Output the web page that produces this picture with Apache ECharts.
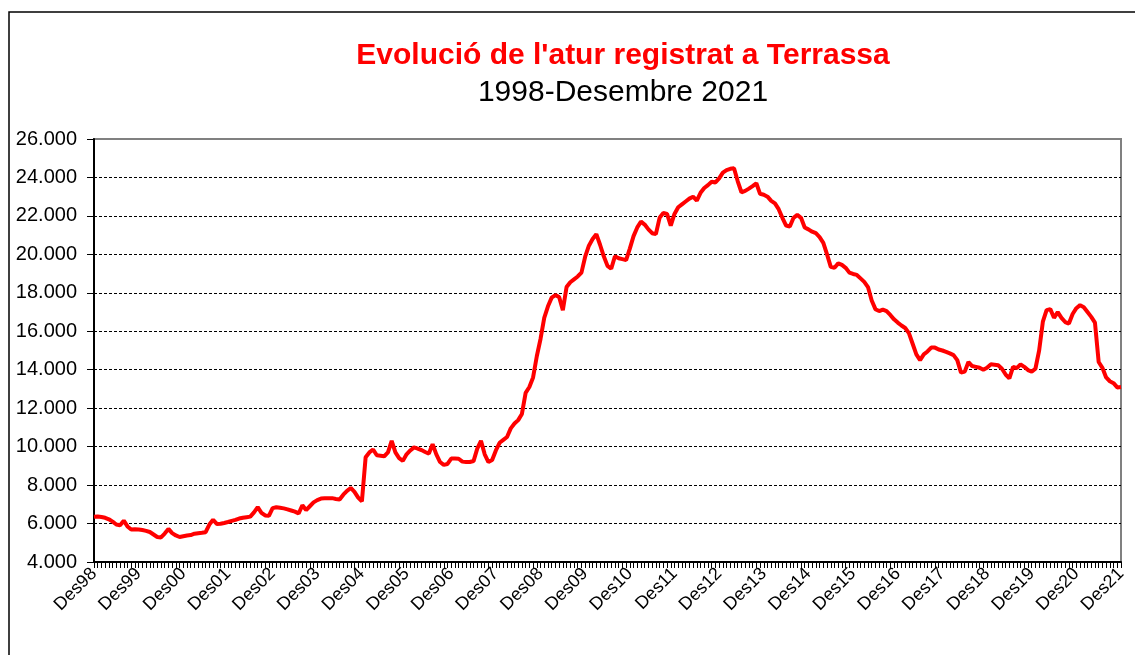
<!DOCTYPE html>
<html>
<head>
<meta charset="utf-8">
<title>Evolució de l'atur registrat a Terrassa</title>
<script src="https://cdn.jsdelivr.net/npm/echarts@6/dist/echarts.min.js"></script>
<style>
  html, body { margin: 0; padding: 0; background: #fff; }
  #chart { width: 1135px; height: 655px; }
</style>
</head>
<body>
<div id="chart"></div>
<script>
// etiquetes de l'eix (una per any, cada desembre)
const yearLabels = ['Des98', 'Des99', 'Des00', 'Des01', 'Des02', 'Des03', 'Des04', 'Des05',
  'Des06', 'Des07', 'Des08', 'Des09', 'Des10', 'Des11', 'Des12', 'Des13', 'Des14', 'Des15',
  'Des16', 'Des17', 'Des18', 'Des19', 'Des20', 'Des21']
const monthNames = ['Gen', 'Feb', 'Mar', 'Abr', 'Mai', 'Jun', 'Jul', 'Ago', 'Set', 'Oct', 'Nov']

// aturats registrats, mensual des de Des98 fins a Des21
const atur = [
  6350, 6370, 6340, 6300, 6220, 6100, 5950, 5910, 6150, 5850, 5690, 5700,
  5690, 5660, 5620, 5560, 5430, 5300, 5280, 5480, 5720, 5500, 5380, 5300,
  5340, 5380, 5400, 5470, 5500, 5520, 5550, 5950, 6200, 5980, 5990, 6030,
  6080, 6140, 6190, 6260, 6300, 6330, 6360, 6580, 6850, 6560, 6420, 6400,
  6800, 6850, 6820, 6790, 6740, 6680, 6620, 6520, 6950, 6700, 6900, 7100,
  7220, 7300, 7310, 7320, 7320, 7280, 7250, 7500, 7700, 7850, 7650, 7350,
  7150, 9450, 9700, 9850, 9550, 9530, 9500, 9700, 10300, 9700, 9400, 9260,
  9600, 9800, 9960, 9900, 9820, 9720, 9640, 10130, 9600, 9200, 9050, 9100,
  9380, 9380, 9370, 9220, 9200, 9200, 9250, 9900, 10300, 9600, 9200, 9300,
  9800, 10200, 10350, 10500, 10950, 11200, 11380, 11700, 12800, 13100, 13600, 14700,
  15600, 16700, 17300, 17750, 17880, 17780, 17100, 18300, 18550, 18700, 18850, 19050,
  19880, 20450, 20800, 21050, 20500, 19900, 19400, 19250, 19900, 19800, 19750, 19700,
  20300, 20950, 21400, 21700, 21550, 21300, 21100, 21050, 21900, 22150, 22100, 21500,
  22100, 22450, 22600, 22750, 22900, 23000, 22800, 23200, 23450, 23600, 23780, 23740,
  23950, 24250, 24380, 24450, 24480, 23800, 23230, 23300, 23420, 23550, 23700, 23150,
  23100, 23000, 22780, 22650, 22350, 21900, 21500, 21450, 21900, 22050, 21900, 21400,
  21300, 21180, 21100, 20900, 20600, 20000, 19350, 19300, 19530, 19450, 19300, 19050,
  18980, 18930, 18750, 18570, 18300, 17600, 17150, 17050, 17130, 17050, 16850, 16620,
  16450, 16300, 16170, 15900, 15350, 14800, 14500, 14800, 14950, 15150, 15150, 15050,
  15000, 14930, 14850, 14760, 14500, 13850, 13900, 14400, 14190, 14150, 14100, 14000,
  14100, 14280, 14260, 14230, 14050, 13750, 13550, 14150, 14080, 14280, 14150, 13980,
  13900, 14050, 15000, 16500, 17100, 17150, 16700, 17000, 16700, 16480, 16400, 16900,
  17200, 17360, 17250, 17000, 16750, 16450, 14400, 14100, 13600, 13400, 13300, 13080,
  13100
]

// categories: cada desembre seguit dels mesos de l'any següent
const categories = []
yearLabels.forEach((lbl, idx) => {
  categories.push(lbl)
  if (idx < yearLabels.length - 1) {
    const yy = lbl.slice(3)
    const next = String((parseInt(yy, 10) + 1) % 100).padStart(2, '0')
    monthNames.forEach(m => categories.push(m + next))
  }
})

const yMin = 4000
const yMax = 26000
const yStep = 2000

const fmtMiles = v => String(v).replace(/\B(?=(\d{3})+(?!\d))/g, '.')

const chart = echarts.init(document.getElementById('chart'))
chart.setOption({
  backgroundColor: '#fff',
  animation: false,
  textStyle: { fontFamily: '"Liberation Sans", Arial, sans-serif' },
  graphic: [
    {
      type: 'rect',
      shape: { x: 9, y: 12, width: 1200, height: 700 },
      style: { fill: 'none', stroke: '#000', lineWidth: 1.5 },
      silent: true
    },
    {
      type: 'text',
      x: 623,
      y: 56,
      style: {
        text: "Evolució de l'atur registrat a Terrassa",
        align: 'center',
        verticalAlign: 'middle',
        font: 'bold 30px "Liberation Sans", Arial, sans-serif',
        fill: '#ff0000'
      }
    },
    {
      type: 'text',
      x: 623,
      y: 93,
      style: {
        text: '1998-Desembre 2021',
        align: 'center',
        verticalAlign: 'middle',
        font: '30px "Liberation Sans", Arial, sans-serif',
        fill: '#000'
      }
    }
  ],
  grid: {
    left: 94,
    right: 14,
    top: 139,
    bottom: 93,
    show: true,
    borderColor: '#808080',
    borderWidth: 2,
    outerBoundsMode: 'none'
  },
  xAxis: {
    type: 'category',
    data: categories,
    boundaryGap: false,
    axisLine: { lineStyle: { color: '#000', width: 2 } },
    axisTick: { interval: 0, length: 6, lineStyle: { color: '#000', width: 1 } },
    axisLabel: {
      interval: 11,
      rotate: 45,
      margin: 9,
      color: '#000',
      fontSize: 18
    },
    splitLine: { show: false }
  },
  yAxis: {
    type: 'value',
    min: yMin,
    max: yMax,
    interval: yStep,
    axisLine: { show: true, lineStyle: { color: '#000', width: 2 } },
    axisTick: { show: true, length: 7, lineStyle: { color: '#000', width: 1 } },
    axisLabel: {
      color: '#000',
      fontSize: 20,
      margin: 17,
      formatter: fmtMiles
    },
    splitLine: {
      show: true,
      showMinLine: false,
      showMaxLine: false,
      lineStyle: { color: '#000', type: [3, 2], width: 1 }
    }
  },
  series: [
    {
      name: 'Atur registrat',
      type: 'line',
      data: atur,
      showSymbol: false,
      symbol: 'none',
      lineStyle: { color: '#ff0000', width: 4 },
      itemStyle: { color: '#ff0000' }
    }
  ]
})
</script>
</body>
</html>
